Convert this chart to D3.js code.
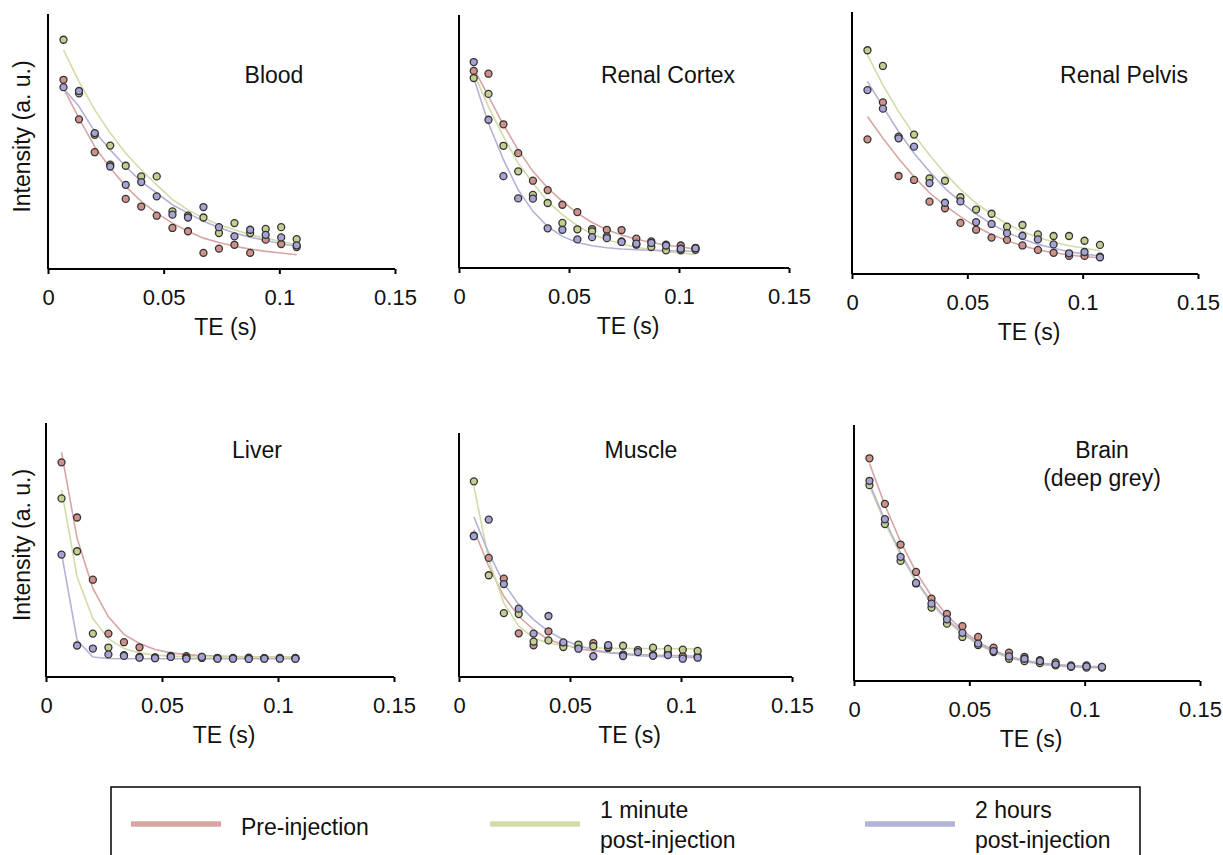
<!DOCTYPE html>
<html>
<head>
<meta charset="utf-8">
<script src="https://cdn.jsdelivr.net/npm/d3@7"></script>
<style>
    body { margin: 0; background: #fff; }
    text { font-family: "Liberation Sans", Arial, sans-serif; fill: #111; }
</style>
</head>
<body>
<div id="chart"></div>
<script>

// echo times (s)
var te = [0.0067, 0.0134, 0.0202, 0.0269, 0.0336, 0.0403, 0.0470, 0.0538,
          0.0605, 0.0672, 0.0739, 0.0806, 0.0874, 0.0941, 0.1008, 0.1075];

var seriesNames = ["Pre-injection", "1 minute|post-injection", "2 hours|post-injection"];
var xTicks = [0, 0.05, 0.1, 0.15];

// Blood
var bloodPre  = [74.2, 58.7, 45.8, 40.9, 27.5, 24.5, 20.9, 16.1, 14.8, 6.3, 8.0, 9.5, 6.3, 11.5, 9.8, 8.6];
var bloodMin  = [89.9, 68.9, 52.6, 48.4, 40.5, 36.3, 36.3, 22.6, 20.9, 20.2, 14.1, 18.0, 14.1, 15.7, 16.4, 11.7];
var bloodHrs  = [71.3, 69.8, 53.3, 40.2, 33.0, 34.1, 28.5, 21.3, 20.2, 24.3, 16.4, 12.8, 15.4, 13.4, 12.4, 9.3];
var bloodPreFit = [70.9, 59.1, 48.0, 39.6, 32.4, 26.5, 21.9, 18.0, 14.8, 12.1, 10.4, 8.9, 7.8, 6.9, 6.3, 5.6];
var bloodMinFit = [85.9, 73.5, 62.4, 53.3, 45.4, 38.9, 33.0, 27.2, 23.2, 20.0, 17.4, 15.4, 13.4, 12.1, 10.8, 9.5];
var bloodHrsFit = [70.9, 63.7, 53.9, 46.7, 40.2, 34.3, 29.8, 25.2, 21.9, 18.7, 16.3, 14.1, 12.5, 11.2, 9.9, 8.9];

// Renal cortex
var cortexPre = [77.9, 76.8, 56.8, 45.4, 34.5, 30.8, 25.0, 22.1, 15.4, 15.1, 15.0, 11.6, 10.5, 9.2, 8.9, 7.9];
var cortexMin = [75.1, 68.8, 48.3, 38.2, 28.9, 25.7, 17.8, 15.3, 14.5, 12.5, 10.5, 9.2, 8.3, 7.0, 7.0, 7.2];
var cortexHrs = [81.4, 58.6, 36.3, 27.5, 27.4, 15.7, 15.1, 11.3, 12.2, 11.8, 10.3, 9.6, 9.9, 8.9, 7.6, 7.8];
var cortexPreFit = [78.9, 67.8, 56.6, 46.7, 38.2, 31.6, 26.3, 21.7, 18.0, 15.1, 13.0, 11.4, 10.1, 9.1, 8.3, 7.5];
var cortexMinFit = [77.0, 63.8, 52.0, 41.4, 33.6, 26.3, 21.1, 16.7, 13.4, 11.2, 9.5, 8.2, 7.2, 6.4, 5.9, 5.4];
var cortexHrsFit = [75.0, 57.2, 42.8, 30.9, 22.4, 16.4, 12.5, 10.1, 8.8, 8.0, 7.5, 7.2, 7.0, 6.8, 6.7, 6.6];

// Renal pelvis
var pelvisPre = [51.4, 65.5, 37.4, 35.9, 27.6, 25.1, 19.5, 16.9, 13.9, 13.0, 10.9, 9.2, 8.1, 6.9, 6.9, 6.6];
var pelvisMin = [85.4, 79.4, 52.4, 53.2, 36.5, 35.6, 29.3, 24.6, 23.0, 18.1, 18.7, 15.1, 14.5, 14.5, 12.7, 11.1];
var pelvisHrs = [70.2, 63.1, 51.8, 48.6, 34.7, 27.2, 27.7, 19.8, 19.1, 15.6, 14.6, 13.2, 11.3, 7.9, 8.4, 6.4];
var pelvisPreFit = [60.1, 51.8, 44.1, 37.1, 31.0, 26.1, 21.9, 18.1, 15.1, 12.7, 10.8, 9.2, 8.1, 7.3, 6.6, 6.2];
var pelvisMinFit = [83.6, 72.1, 62.0, 53.1, 45.4, 38.4, 32.3, 27.0, 22.8, 19.1, 16.2, 14.0, 12.2, 10.8, 9.8, 8.9];
var pelvisHrsFit = [73.4, 63.9, 54.3, 46.1, 39.1, 32.7, 27.6, 22.9, 19.1, 15.9, 13.4, 11.3, 9.8, 8.5, 7.6, 6.9];

// Liver
var liverPre = [84.5, 62.8, 38.3, 17.1, 13.7, 11.7, 7.7, 8.3, 8.2, 7.9, 7.5, 7.5, 7.6, 7.4, 7.5, 7.5];
var liverMin = [70.3, 49.5, 17.1, 11.6, 8.6, 7.9, 7.6, 7.9, 7.6, 7.5, 7.4, 7.4, 7.3, 7.4, 7.4, 7.3];
var liverHrs = [48.2, 12.4, 11.2, 8.9, 8.3, 7.6, 7.4, 7.9, 7.2, 7.9, 7.2, 7.2, 7.1, 7.2, 7.2, 7.2];
var liverPreFit = [88.4, 54.6, 34.9, 23.7, 16.8, 13.2, 10.8, 9.5, 8.8, 8.4, 8.2, 8.1, 8.0, 8.0, 7.9, 7.9];
var liverMinFit = [73.7, 39.5, 23.0, 15.1, 11.2, 9.5, 8.6, 8.2, 8.0, 7.9, 7.9, 7.9, 7.9, 7.9, 7.9, 7.9];
var liverHrsFit = [48.7, 14.5, 7.9, 7.3, 7.2, 7.2, 7.2, 7.2, 7.2, 7.2, 7.2, 7.2, 7.2, 7.2, 7.2, 7.2];

// Muscle
var musclePre = [57.9, 48.8, 40.3, 17.9, 13.0, 18.7, 13.3, 12.3, 13.9, 11.9, 9.2, 10.9, 9.0, 9.8, 8.5, 8.6];
var muscleMin = [80.2, 41.7, 26.2, 25.8, 14.5, 15.0, 12.3, 13.3, 12.6, 12.3, 12.8, 11.0, 12.0, 11.5, 11.2, 10.7];
var muscleHrs = [57.7, 64.5, 38.1, 28.0, 17.8, 25.0, 14.2, 11.6, 8.5, 13.1, 8.6, 10.2, 8.7, 9.0, 7.5, 7.9];
var musclePreFit = [60.4, 45.4, 33.1, 24.9, 19.4, 15.3, 13.3, 11.6, 10.7, 10.0, 9.6, 9.2, 9.0, 8.8, 8.7, 8.5];
var muscleMinFit = [78.1, 48.1, 30.3, 20.8, 16.0, 13.9, 12.8, 12.3, 12.0, 11.8, 11.7, 11.7, 11.6, 11.6, 11.6, 11.6];
var muscleHrsFit = [65.6, 50.8, 38.5, 29.6, 23.5, 18.7, 15.3, 12.8, 11.2, 10.1, 9.3, 8.7, 8.5, 8.2, 8.1, 7.9];

// Brain (deep grey)
var brainPre = [87.0, 69.2, 53.3, 42.6, 32.2, 26.2, 21.4, 17.2, 13.0, 11.1, 9.4, 8.1, 7.3, 6.1, 6.1, 5.5];
var brainMin = [76.5, 61.3, 46.9, 38.1, 28.7, 22.4, 17.2, 14.0, 11.3, 8.7, 7.8, 7.0, 6.1, 5.5, 5.2, 5.2];
var brainHrs = [78.2, 63.2, 48.5, 38.3, 30.2, 24.1, 18.8, 14.6, 11.7, 9.6, 8.7, 7.8, 6.5, 5.7, 5.7, 5.5];
var brainPreFit = [85.0, 68.7, 54.4, 42.6, 33.1, 25.7, 19.8, 15.3, 12.0, 9.6, 8.1, 7.0, 6.4, 6.0, 5.7, 5.6];
var brainMinFit = [76.1, 61.8, 49.2, 38.7, 30.2, 23.5, 18.3, 14.2, 11.2, 9.1, 7.6, 6.5, 5.9, 5.5, 5.2, 5.1];
var brainHrsFit = [77.2, 62.8, 50.1, 39.4, 30.9, 24.1, 18.9, 14.6, 11.6, 9.4, 7.8, 6.8, 6.1, 5.7, 5.5, 5.3];

var lineColors = ["#d7a6a4", "#d3dba9", "#b3b2d7"];
var dotColors = ["#cf9189", "#c2cf8e", "#a4a3d4"];

// panel frames: plot area in page pixels
var panels = [
    {title: ["Blood"], x0: 48, x1: 395, top: 14, bot: 269, tx: 274, ty: 75, ylab: true,
     pts: [bloodPre, bloodMin, bloodHrs], fits: [bloodPreFit, bloodMinFit, bloodHrsFit]},
    {title: ["Renal Cortex"], x0: 459, x1: 789, top: 15, bot: 268, tx: 668, ty: 75, ylab: false,
     pts: [cortexPre, cortexMin, cortexHrs], fits: [cortexPreFit, cortexMinFit, cortexHrsFit]},
    {title: ["Renal Pelvis"], x0: 852, x1: 1198, top: 12, bot: 274, tx: 1124, ty: 75, ylab: false,
     pts: [pelvisPre, pelvisMin, pelvisHrs], fits: [pelvisPreFit, pelvisMinFit, pelvisHrsFit]},
    {title: ["Liver"], x0: 46, x1: 394, top: 423, bot: 677, tx: 257, ty: 450, ylab: true,
     pts: [liverPre, liverMin, liverHrs], fits: [liverPreFit, liverMinFit, liverHrsFit]},
    {title: ["Muscle"], x0: 459, x1: 792, top: 433, bot: 677, tx: 641, ty: 450, ylab: false,
     pts: [musclePre, muscleMin, muscleHrs], fits: [musclePreFit, muscleMinFit, muscleHrsFit]},
    {title: ["Brain", "(deep grey)"], x0: 854, x1: 1200, top: 425, bot: 681, tx: 1102, ty: 450, ylab: false,
     pts: [brainPre, brainMin, brainHrs], fits: [brainPreFit, brainMinFit, brainHrsFit]}
];

var width = 1223;
var height = 855;

var svg = d3.select("#chart")
    .append("svg")
    .attr("width", width)
    .attr("height", height);

panels.forEach(function(p) {

    var xScale = d3.scaleLinear()
        .domain([0, 0.15])
        .range([p.x0, p.x1]);

    var yScale = d3.scaleLinear()
        .domain([0, 100])
        .range([p.bot, p.top]);

    var g = svg.append("g");

    // fitted curves
    var line = d3.line()
        .x(function(d, i) { return xScale(te[i]); })
        .y(function(d) { return yScale(d); });

    p.fits.forEach(function(f, s) {
        g.append("path")
            .datum(f)
            .attr("d", line)
            .attr("fill", "none")
            .attr("stroke", lineColors[s])
            .attr("stroke-width", 1.6);
    });

    // measured points
    p.pts.forEach(function(vals, s) {
        g.selectAll(null)
            .data(vals)
            .enter()
            .append("circle")
                .attr("cx", function(d, i) { return xScale(te[i]); })
                .attr("cy", function(d) { return yScale(d); })
                .attr("r", 3.5)
                .attr("fill", dotColors[s])
                .attr("stroke", "#333")
                .attr("stroke-width", 1.3);
    });

    // axes
    var xAxis = g.append("g")
        .attr("transform", `translate(0,${p.bot})`)
        .call(d3.axisBottom(xScale).tickValues(xTicks).tickSize(5).tickPadding(15)
            .tickFormat(function(d) { return String(d); }));
    xAxis.select(".domain").attr("stroke", "#000").attr("stroke-width", 2)
        .attr("d", `M${p.x0},0H${p.x1}`);
    xAxis.selectAll(".tick line").attr("stroke", "#000").attr("stroke-width", 2);
    xAxis.selectAll(".tick text")
        .style("font-family", "Liberation Sans, Arial, sans-serif")
        .style("font-size", "22px")
        .attr("fill", "#111");

    g.append("line")
        .attr("x1", p.x0).attr("x2", p.x0)
        .attr("y1", p.top).attr("y2", p.bot)
        .attr("stroke", "#000")
        .attr("stroke-width", 2);

    g.append("text")
        .attr("x", (p.x0 + p.x1) / 2 + 4)
        .attr("y", p.bot + 66)
        .attr("text-anchor", "middle")
        .style("font-size", "23px")
        .text("TE (s)");

    if (p.ylab) {
        g.append("text")
            .attr("transform", "rotate(-90)")
            .attr("x", -(p.top + p.bot) / 2 + 5)
            .attr("y", 30)
            .attr("text-anchor", "middle")
            .style("font-size", "23px")
            .text("Intensity (a. u.)");
    }

    p.title.forEach(function(t, i) {
        g.append("text")
            .attr("x", p.tx)
            .attr("y", p.ty + 8 + i * 28)
            .attr("text-anchor", "middle")
            .style("font-size", "23px")
            .text(t);
    });
});

// legend
var legend = svg.append("g");

legend.append("rect")
    .attr("x", 111)
    .attr("y", 787)
    .attr("width", 1029)
    .attr("height", 120)
    .attr("fill", "none")
    .attr("stroke", "#000")
    .attr("stroke-width", 1.5);

var legendX = [131, 490, 865];

seriesNames.forEach(function(name, s) {
    legend.append("line")
        .attr("x1", legendX[s]).attr("x2", legendX[s] + 90)
        .attr("y1", 824).attr("y2", 824)
        .attr("stroke", lineColors[s])
        .attr("stroke-width", 5.5);

    var parts = name.split("|");
    parts.forEach(function(t, i) {
        legend.append("text")
            .attr("x", legendX[s] + 110)
            .attr("y", parts.length === 1 ? 835 : 818 + i * 30)
            .style("font-size", "23px")
            .text(t);
    });
});

</script>
</body>
</html>
